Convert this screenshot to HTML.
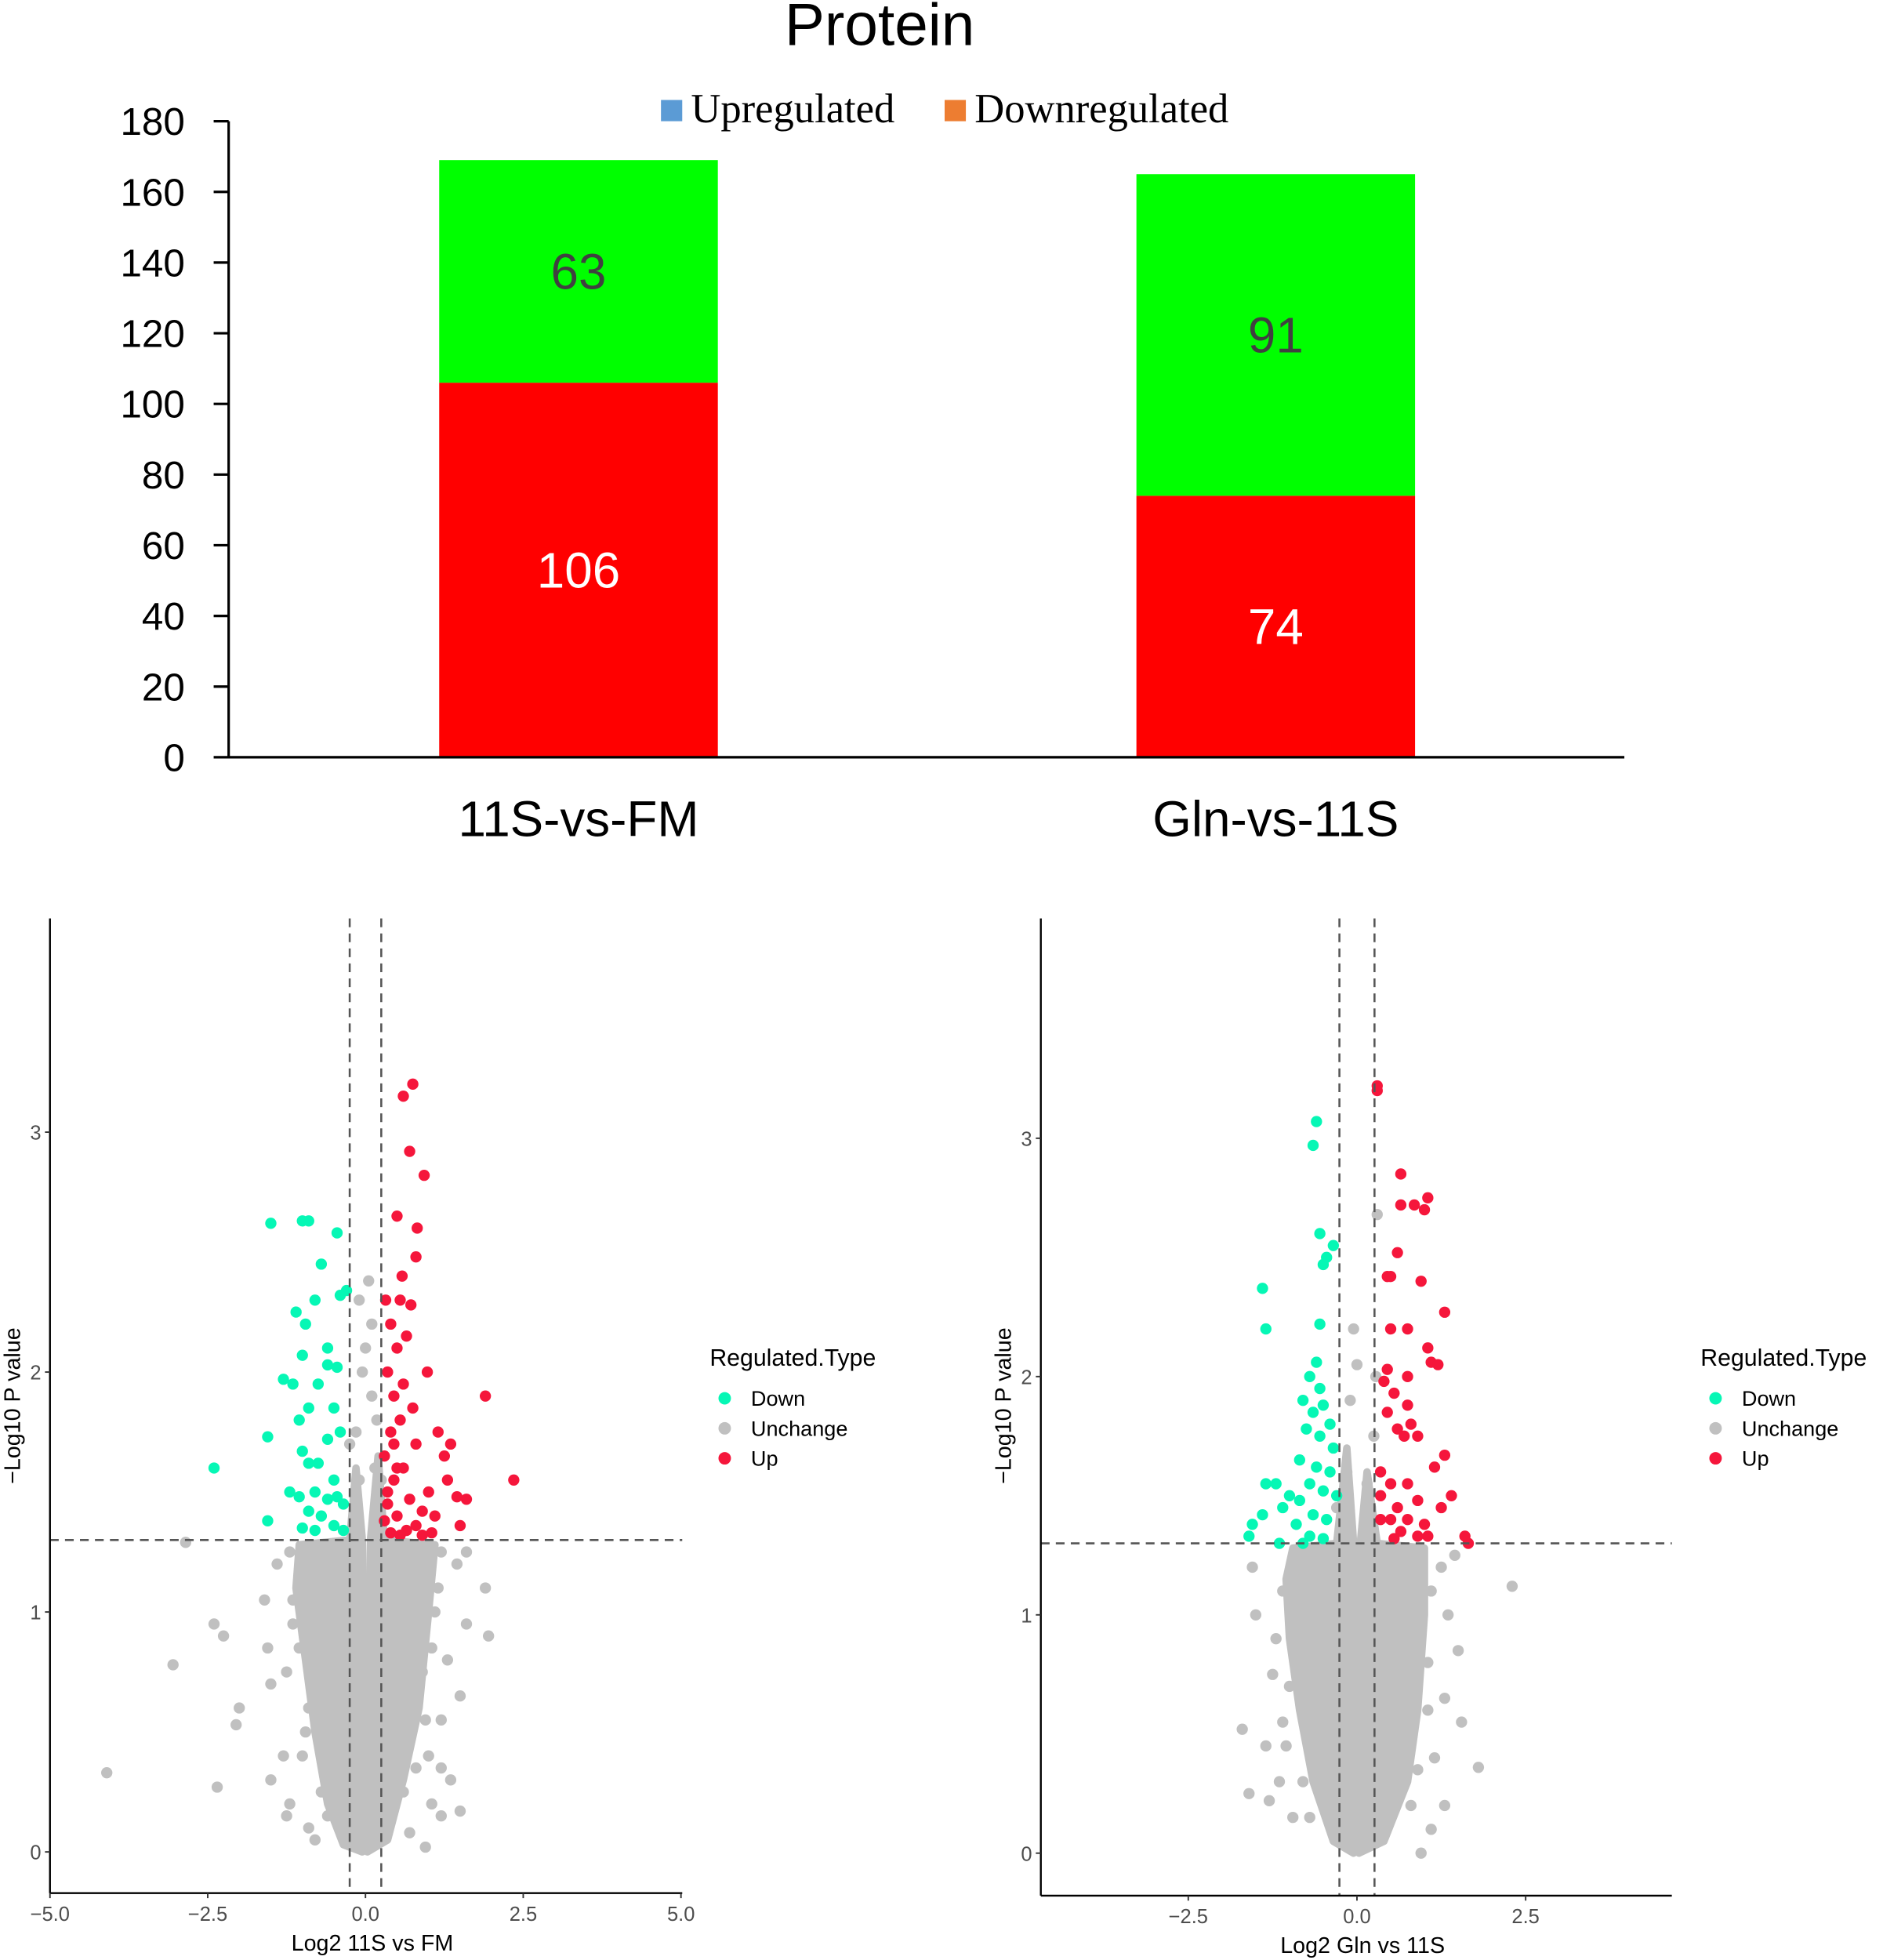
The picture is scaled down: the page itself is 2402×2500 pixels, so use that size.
<!DOCTYPE html>
<html><head><meta charset="utf-8"><style>
html,body{margin:0;padding:0;background:#fff}
svg{display:block}
</style></head><body>
<svg id="fig" width="2402" height="2500" viewBox="0 0 1507 1568.5" preserveAspectRatio="none" xmlns="http://www.w3.org/2000/svg" font-family="Liberation Sans, sans-serif">
<g id="bar"></g>
<g id="v1"></g>
<g id="v2"></g>
</svg>
<script>
const barCategories=["11S-vs-FM","Gln-vs-11S"];
const downValues=[106,74];
const upValues=[63,91];
const barTicks=[0,20,40,60,80,100,120,140,160,180];

const v1Up=[[0.75,3.2],[0.6,3.15],[0.7,2.92],[0.93,2.82],[0.5,2.65],[0.82,2.6],[0.8,2.48],[0.58,2.4],[0.32,2.3],[0.55,2.3],[0.72,2.28],[0.4,2.2],[0.65,2.15],[0.5,2.1],[0.98,2.0],[0.35,2.0],[0.6,1.95],[0.45,1.9],[0.75,1.85],[0.55,1.8],[1.9,1.9],[1.15,1.75],[0.4,1.75],[0.8,1.7],[1.35,1.7],[1.25,1.65],[0.3,1.65],[0.6,1.6],[1.3,1.55],[0.45,1.55],[2.35,1.55],[1.0,1.5],[1.45,1.48],[1.6,1.47],[0.7,1.47],[0.35,1.45],[0.9,1.42],[1.1,1.4],[0.5,1.4],[0.3,1.38],[0.8,1.36],[0.65,1.34],[1.05,1.33],[0.4,1.33],[0.55,1.32],[1.5,1.36],[0.9,1.32],[0.35,1.5],[0.5,1.6],[0.45,1.7]];
const v1Down=[[-1.5,2.62],[-1.0,2.63],[-0.9,2.63],[-0.45,2.58],[-0.7,2.45],[-0.3,2.34],[-0.4,2.32],[-1.1,2.25],[-0.8,2.3],[-0.95,2.2],[-0.6,2.1],[-1.0,2.07],[-0.6,2.03],[-0.45,2.02],[-1.3,1.97],[-1.15,1.95],[-0.75,1.95],[-0.9,1.85],[-0.5,1.85],[-1.05,1.8],[-0.4,1.75],[-0.6,1.72],[-1.55,1.73],[-1.0,1.67],[-0.9,1.62],[-0.75,1.62],[-2.4,1.6],[-0.5,1.55],[-1.2,1.5],[-1.05,1.48],[-0.8,1.5],[-0.6,1.47],[-0.45,1.48],[-0.35,1.45],[-0.9,1.42],[-1.55,1.38],[-0.7,1.4],[-1.0,1.35],[-0.5,1.36],[-0.35,1.34],[-0.8,1.34]];
const v1Gray=[[-4.1,0.33],[-3.05,0.78],[-2.85,1.29],[-2.4,0.95],[-2.25,0.9],[-2.35,0.27],[-2.0,0.6],[-2.05,0.53],[-1.6,1.05],[-1.55,0.85],[-1.5,0.7],[-1.3,0.4],[-1.2,0.2],[-1.25,0.15],[-1.4,1.2],[-1.5,0.3],[1.5,0.17],[1.35,0.3],[1.2,0.35],[1.2,0.15],[1.05,0.2],[0.95,0.02],[1.95,0.9],[1.9,1.1],[1.6,0.95],[1.5,0.65],[1.45,1.2],[1.6,1.25],[1.3,0.8],[1.2,0.55],[1.1,1.0],[-1.15,0.95],[-1.25,0.75],[-0.9,0.1],[0.7,0.08],[-0.8,0.05],[0.05,2.38],[-0.1,2.3],[0.1,2.2],[-0.05,2.0],[0.15,1.6],[-0.15,1.75],[-0.25,1.7],[0.25,1.55],[0.0,2.1],[0.1,1.9],[-0.1,1.55],[0.18,1.8],[-1.2,1.25],[1.2,1.25],[-0.95,1.15],[1.0,1.15],[0.9,0.75],[-0.9,0.6],[0.6,0.25],[-0.6,0.15],[1.0,0.4],[-1.0,0.4],[-1.15,1.05],[1.15,1.1],[-1.05,0.85],[1.05,0.85],[0.95,0.55],[-0.95,0.5],[0.8,0.35],[-0.7,0.25]];
const v1Lobes=[
 [[-0.05,0],[-0.35,0.03],[-0.6,0.2],[-0.8,0.5],[-0.95,0.8],[-1.1,1.1],[-1.05,1.28],[-0.25,1.3],[-0.15,1.6],[-0.05,1.3],[-0.03,0.6]],
 [[0.03,0],[0.35,0.05],[0.6,0.3],[0.85,0.6],[1.0,1.0],[1.1,1.28],[0.3,1.3],[0.2,1.65],[0.08,1.3],[0.03,0.6]]
];

const v2Up=[[0.3,3.22],[0.3,3.2],[0.65,2.85],[1.05,2.75],[0.85,2.72],[0.65,2.72],[1.0,2.7],[0.6,2.52],[0.45,2.42],[0.5,2.42],[0.95,2.4],[0.5,2.2],[1.3,2.27],[0.75,2.2],[1.05,2.12],[1.1,2.06],[1.2,2.05],[0.45,2.03],[0.75,2.0],[0.4,1.98],[0.55,1.93],[0.75,1.88],[0.45,1.85],[0.8,1.8],[0.6,1.78],[0.9,1.75],[0.7,1.75],[1.15,1.62],[1.3,1.67],[0.35,1.6],[0.5,1.55],[0.75,1.55],[1.4,1.5],[0.35,1.5],[0.9,1.48],[0.6,1.45],[1.25,1.45],[0.5,1.4],[1.0,1.38],[0.75,1.4],[0.35,1.4],[0.65,1.35],[1.6,1.33],[1.65,1.3],[1.05,1.33],[0.55,1.32],[0.9,1.33]];
const v2Down=[[-0.6,3.07],[-0.65,2.97],[-0.35,2.55],[-0.55,2.6],[-0.5,2.47],[-0.45,2.5],[-1.4,2.37],[-1.35,2.2],[-0.55,2.22],[-0.6,2.06],[-0.7,2.0],[-0.55,1.95],[-0.8,1.9],[-0.5,1.88],[-0.65,1.85],[-0.4,1.8],[-0.75,1.78],[-0.55,1.75],[-0.35,1.7],[-0.85,1.65],[-0.6,1.62],[-0.4,1.6],[-1.2,1.55],[-1.35,1.55],[-0.7,1.55],[-0.5,1.52],[-1.0,1.5],[-0.3,1.5],[-0.85,1.48],[-1.1,1.45],[-0.65,1.42],[-1.4,1.42],[-0.45,1.4],[-1.55,1.38],[-0.9,1.38],[-0.7,1.33],[-1.6,1.33],[-1.15,1.3],[-0.5,1.32],[-0.8,1.3]];
const v2Gray=[[2.3,1.12],[1.8,0.36],[1.55,0.55],[1.5,0.85],[1.3,0.2],[1.1,0.1],[1.3,0.65],[1.35,1.0],[1.25,1.2],[1.15,0.4],[-1.7,0.52],[-1.6,0.25],[-1.3,0.22],[-1.35,0.45],[-1.25,0.75],[-1.5,1.0],[-1.55,1.2],[-1.2,0.9],[-1.1,0.55],[-0.95,0.15],[0.3,2.68],[-0.05,2.2],[0.95,0.0],[-1.15,0.3],[1.45,1.25],[0.28,2.0],[-0.1,1.9],[0.25,1.75],[-0.3,1.45],[0.2,1.45],[0.0,2.05],[-0.15,1.6],[0.15,1.55],[1.05,0.8],[-1.0,0.7],[0.8,0.2],[-0.7,0.15],[-1.1,1.1],[1.1,1.1],[1.05,0.6],[-1.05,0.45],[0.9,0.35],[-0.8,0.3]];
const v2Lobes=[
 [[-0.05,0],[-0.35,0.05],[-0.65,0.3],[-0.85,0.6],[-1.0,0.9],[-1.05,1.15],[-0.95,1.28],[-0.3,1.3],[-0.15,1.7],[-0.05,1.3],[-0.03,0.5]],
 [[0.03,0],[0.4,0.05],[0.75,0.3],[0.9,0.6],[1.0,1.0],[1.0,1.28],[0.3,1.3],[0.15,1.6],[0.05,1.3],[0.03,0.5]]
];

const NS="http://www.w3.org/2000/svg";
function mk(parent,tag,attrs,txt){const e=document.createElementNS(NS,tag);for(const k in attrs)e.setAttribute(k,attrs[k]);if(txt!==undefined)e.textContent=txt;parent.appendChild(e);return e;}

// ---- bar chart
(function(){
const g=document.getElementById('bar');
const y0=606,y1=97,ax=183;
const yS=v=>y0-(v/180)*(y0-y1);
const centers=[463,1021],bw=223;
let t=mk(g,'text',{x:704,y:36,'font-size':48,'text-anchor':'middle',fill:'#000'},'Protein');


let r=mk(g,'rect',{x:529,y:80,width:17,height:17,fill:'#5b9bd5'});


t=mk(g,'text',{x:553,y:98,'font-size':33,'font-family':'Liberation Serif, serif',fill:'#000'},'Upregulated');


r=mk(g,'rect',{x:756,y:80,width:17,height:17,fill:'#ed7d31'});


t=mk(g,'text',{x:780,y:98,'font-size':33,'font-family':'Liberation Serif, serif',fill:'#000'},'Downregulated');


barCategories.forEach((c,i)=>{
 const x=centers[i]-bw/2;
 const d=downValues[i],u=upValues[i];
 let b=mk(g,'rect',{x:x,y:yS(d),width:bw,height:y0-yS(d),fill:'#ff0000'});
 
 
 b=mk(g,'rect',{x:x,y:yS(d+u),width:bw,height:yS(d)-yS(d+u),fill:'#00ff00'});
 
 
 let l=mk(g,'text',{x:centers[i],y:(yS(d)+y0)/2+14,'font-size':40,'text-anchor':'middle',fill:'#fff'},String(d));
 
 
 l=mk(g,'text',{x:centers[i],y:(yS(d)+yS(d+u))/2+14,'font-size':40,'text-anchor':'middle',fill:'#404040'},String(u));
 
 
 l=mk(g,'text',{x:centers[i],y:669,'font-size':40,'text-anchor':'middle',fill:'#000'},c);
 
 
});
let a=mk(g,'line',{x1:ax,y1:y1,x2:ax,y2:y0+1,stroke:'#000','stroke-width':2});


a=mk(g,'line',{x1:ax-1,y1:y0,x2:1300,y2:y0,stroke:'#000','stroke-width':2});


barTicks.forEach(v=>{
 const tk=mk(g,'line',{x1:ax-12,y1:yS(v),x2:ax,y2:yS(v),stroke:'#000','stroke-width':2});
 
 
 const tl=mk(g,'text',{x:148,y:yS(v)+11,'font-size':31,'text-anchor':'end',fill:'#000'},String(v));
 
 
});
})();

// ---- volcano
function volcano(id,cfg,up,down,gray,lobes){
 const g=document.getElementById(id);
 const xS=v=>cfg.x0+v*cfg.kx, yS=v=>cfg.y0-v*cfg.ky;
 lobes.forEach(cloud=>{
  const p=mk(g,'path',{d:'M'+cloud.map(q=>xS(q[0]).toFixed(1)+','+yS(q[1]).toFixed(1)).join('L')+'Z',fill:'#c0c0c0',stroke:'#c0c0c0','stroke-width':6,'stroke-linejoin':'round'});
  
  
 });
 const dot=(arr,col,nm)=>arr.forEach(q=>{
  const c=mk(g,'circle',{cx:xS(q[0]),cy:yS(q[1]),r:4.5,fill:col});
  
  
 });
 dot(gray,'#c0c0c0','point-unchange');
 dot(down,'#06f7b5','point-down');
 dot(up,'#f5163b','point-up');
 [-cfg.fc,cfg.fc].forEach(v=>{
  const l=mk(g,'line',{x1:xS(v),y1:cfg.top,x2:xS(v),y2:cfg.bot,stroke:'#555','stroke-width':1.6,'stroke-dasharray':'7 5'});
  
  
 });
 const h=mk(g,'line',{x1:cfg.left,y1:yS(1.3),x2:cfg.right,y2:yS(1.3),stroke:'#555','stroke-width':1.6,'stroke-dasharray':'7 5'});
 
 
 let a=mk(g,'line',{x1:cfg.left,y1:cfg.top,x2:cfg.left,y2:cfg.bot,stroke:'#000','stroke-width':1.5});
 
 
 a=mk(g,'line',{x1:cfg.left,y1:cfg.bot,x2:cfg.right,y2:cfg.bot,stroke:'#000','stroke-width':1.5});
 
 
 cfg.xt.forEach(v=>{
  const tk=mk(g,'line',{x1:xS(v),y1:cfg.bot,x2:xS(v),y2:cfg.bot+4,stroke:'#333','stroke-width':1.2});
  
  
  const tl=mk(g,'text',{x:xS(v),y:cfg.bot+22,'font-size':16,'text-anchor':'middle',fill:'#4d4d4d'},(v<0?'\u2212':'')+Math.abs(v).toFixed(1));
  
  
 });
 [0,1,2,3].forEach(v=>{
  const tk=mk(g,'line',{x1:cfg.left-4,y1:yS(v),x2:cfg.left,y2:yS(v),stroke:'#333','stroke-width':1.2});
  
  
  const tl=mk(g,'text',{x:cfg.left-7,y:yS(v)+6,'font-size':16,'text-anchor':'end',fill:'#4d4d4d'},String(v));
  
  
 });
 let t=mk(g,'text',{x:(cfg.left+cfg.right)/2+5,y:cfg.bot+46,'font-size':18,'text-anchor':'middle',fill:'#000'},cfg.xtitle);
 
 
 t=mk(g,'text',{x:0,y:0,'font-size':18,'text-anchor':'middle',fill:'#000',transform:`translate(${cfg.left-24},1125) rotate(-90)`},'\u2212Log10 P value');
 
 
 t=mk(g,'text',{x:cfg.lx,y:1093,'font-size':19,fill:'#000'},'Regulated.Type');
 
 
 [['Down','#06f7b5'],['Unchange','#c0c0c0'],['Up','#f5163b']].forEach((e,i)=>{
  const c=mk(g,'circle',{cx:cfg.lx+12,cy:1119+24*i,r:5,fill:e[1]});
  
  
  const l=mk(g,'text',{x:cfg.lx+33,y:1125+24*i,'font-size':17,fill:'#000'},e[0]);
  
  
 });
}
volcano('v1',{x0:292.5,kx:50.5,y0:1482,ky:192,fc:0.25,top:735,bot:1515,left:40,right:546,xt:[-5,-2.5,0,2.5,5],xtitle:'Log2 11S vs FM',lx:568},v1Up,v1Down,v1Gray,v1Lobes);
volcano('v2',{x0:1086,kx:54,y0:1483,ky:190.7,fc:0.26,top:735,bot:1517,left:833,right:1338,xt:[-2.5,0,2.5],xtitle:'Log2 Gln vs 11S',lx:1361},v2Up,v2Down,v2Gray,v2Lobes);
</script>
</body></html>
